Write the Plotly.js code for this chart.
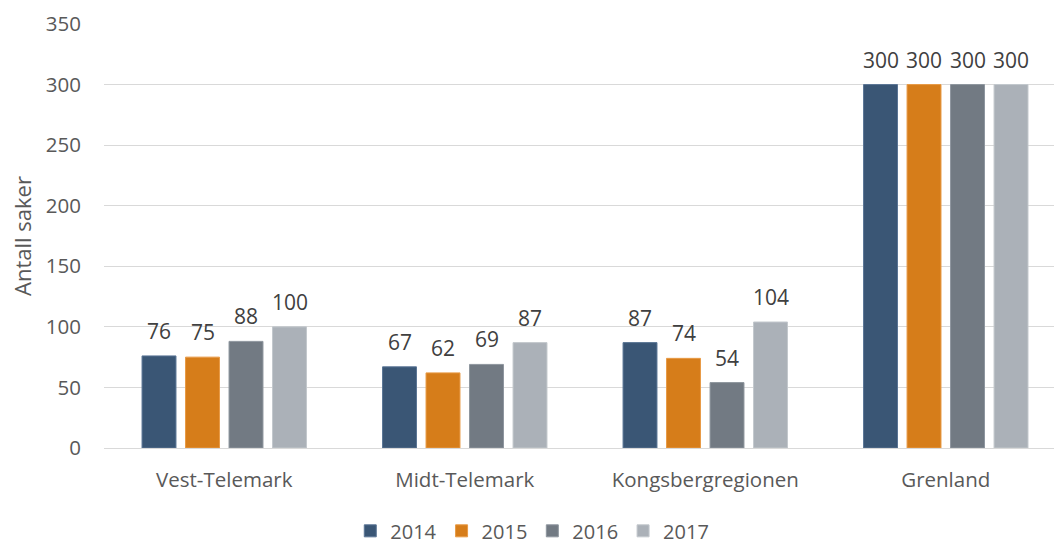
<!DOCTYPE html>
<html><head><meta charset="utf-8">
<script src="https://cdn.plot.ly/plotly-3.0.1.min.js"></script>
<style>html,body{margin:0;padding:0;background:#fff}#chart{width:1054px;height:545px}</style>
</head><body><div id="chart"></div>
<script>
const categories = ["Vest-Telemark", "Midt-Telemark", "Kongsbergregionen", "Grenland"];
const years = ["2014", "2015", "2016", "2017"];
const values2014 = [76, 67, 87, 300];
const values2015 = [75, 62, 74, 300];
const values2016 = [88, 69, 54, 300];
const values2017 = [100, 87, 104, 300];
const colors = ["#3A5675", "#D67D1A", "#727A83", "#ABB1B8"];
const lineColors = ["#5A7595", "#E89A45", "#8E969E", "#C3C8CD"];
const series = [values2014, values2015, values2016, values2017];
const FONT = "'Open Sans', sans-serif";
const traces = series.map((vals, i) => ({
  type: "bar", name: years[i], x: categories, y: vals,
  marker: {color: colors[i], line: {color: lineColors[i], width: 1}}
}));
// data labels as annotations, offset by each series' bar slot (pixels)
const slotPx = 43.5;
const annotations = [];
series.forEach((vals, i) => {
  vals.forEach((v, j) => {
    annotations.push({x: categories[j], y: v, xref: "x", yref: "y", text: String(v), showarrow: false,
      xshift: (i - 1.5) * slotPx, yanchor: "bottom", yshift: 9,
      font: {family: FONT, size: 21, color: "#404040"}});
  });
});
const layout = {
  width: 1054, height: 545,
  margin: {l: 104, r: 0, t: 24, b: 96.5},
  barmode: "group", bargap: 0.2765, bargroupgap: 0.22,
  paper_bgcolor: "#fff", plot_bgcolor: "#fff",
  font: {family: FONT, color: "#595959", size: 20},
  showlegend: true,
  legend: {orientation: "h", xref: "container", yref: "container", x: 0.505, xanchor: "center", y: 0.026, yanchor: "middle",
    font: {family: FONT, size: 20, color: "#595959"}, itemwidth: 30, traceorder: "normal"},
  annotations: annotations,
  xaxis: {type: "category", range: [-0.5, 3.45], showgrid: false, zeroline: false, showline: false,
    ticks: "", ticklabelstandoff: 17, tickfont: {family: FONT, size: 20.5, color: "#595959"}, fixedrange: true},
  yaxis: {range: [0, 350], dtick: 50, tick0: 0, showgrid: true, gridcolor: "#D9D9D9", gridwidth: 1,
    zeroline: true, zerolinecolor: "#D9D9D9", zerolinewidth: 1, showline: false, ticks: "",
    ticklabelstandoff: 22, tickfont: {family: FONT, size: 20.5, color: "#595959"},
    title: {text: "Antall saker", font: {family: FONT, size: 22, color: "#595959"}, standoff: 8}}
};
Plotly.newPlot("chart", traces, layout, {displayModeBar: false, staticPlot: true});
</script></body></html>
